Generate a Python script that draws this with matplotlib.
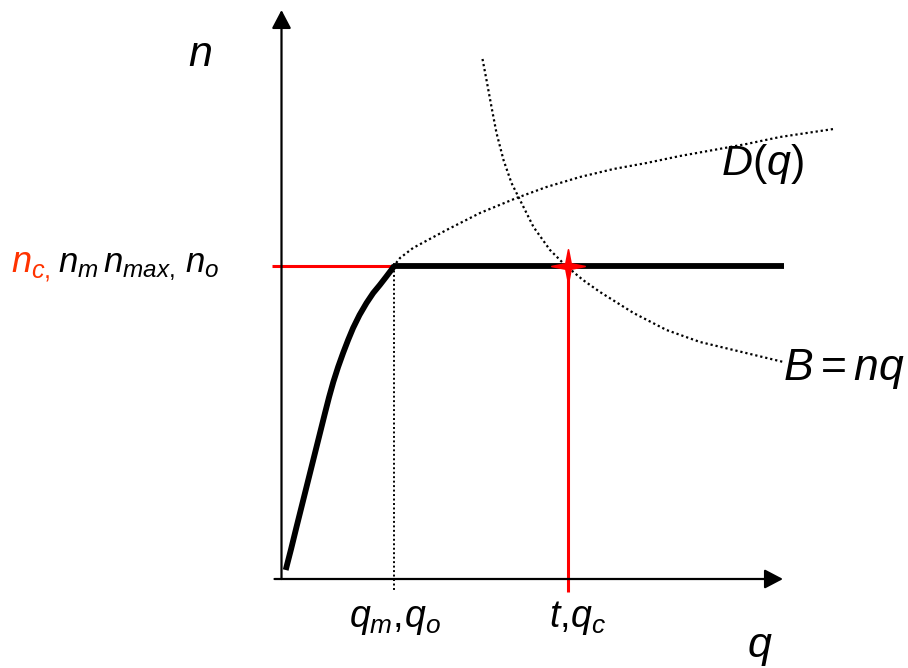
import matplotlib.pyplot as plt
from matplotlib.path import Path

plt.rcParams['mathtext.fontset'] = 'custom'
plt.rcParams['mathtext.rm'] = 'Liberation Sans'
plt.rcParams['mathtext.it'] = 'Liberation Sans:italic'
plt.rcParams['font.family'] = ['Liberation Sans', 'DejaVu Sans']

# ---- data (schematic units, origin at the axes crossing) ----
q_m = 112.5          # q_m, q_o
q_c = 286.0          # t, q_c
n_c = 313.5          # n_c, n_m, n_max, n_o
q_end = 502.0        # end of the plateau

# rising part of the thick curve
rise_q = [4.2, 9.6, 15.0, 20.0, 25.0, 30.0, 35.0, 39.5, 43.5, 47.6, 51.8, 56.6, 61.6,
          66.6, 71.6, 78.0, 85.0, 91.7, 98.3, 104.5, 109.8, 113.0]
rise_n = [9, 30, 52, 72, 92, 112, 132, 150, 166, 182, 197, 212, 226,
          239, 251, 264, 276, 286, 294, 302, 309, 313.5]

# D(q) dotted curve
d_q = [111.5, 118.5, 131.5, 165, 198.5, 235, 265, 298.5, 332, 365, 398.5, 432, 465, 498.5, 552]
d_n = [312, 321, 331, 349, 366, 381, 392, 402, 410, 416, 423, 429, 435, 442, 450]

# B = nq dotted curve
b_q = [201, 205, 210, 215, 222, 230, 238.5, 252, 268.5, 283.5, 301.5, 318.5, 352, 385, 418.5, 452, 502]
b_n = [520, 499, 472, 446, 419, 396, 379, 352, 329, 314, 299, 287, 266, 249, 237, 229, 217]

fig = plt.figure(figsize=(9.08, 6.68), dpi=100)
ax = fig.add_axes([0, 0, 1, 1])
ax.set_xlim(-281.5, 626.5)
ax.set_ylim(-89, 579)
ax.axis('off')

dots = (0, (1, 1.3))
ax.plot(d_q, d_n, color='black', lw=1.6, ls=dots)
ax.plot(b_q, b_n, color='black', lw=1.6, ls=dots)
ax.plot([q_m, q_m], [n_c, -11], color='black', lw=1.4, ls=dots)

# red guide lines
ax.plot([-9.5, q_m], [n_c, n_c], color='#ff0000', lw=2.2, solid_capstyle='butt')
ax.plot([q_c, q_c], [n_c, -13], color='#ff0000', lw=2.2, solid_capstyle='butt')

# thick curve
ax.plot(rise_q, rise_n, color='black', lw=4.2, solid_capstyle='butt', solid_joinstyle='round')
ax.plot([q_m - 1, q_end], [n_c, n_c], color='black', lw=4.2, solid_capstyle='butt')

# axes arrows
arrow = dict(arrowstyle='-|>,head_length=0.8,head_width=0.42', lw=1.6, color='black',
             mutation_scale=14, shrinkA=0, shrinkB=0)
ax.annotate('', xy=(0, 569), xytext=(0, 0), arrowprops=arrow)
ax.annotate('', xy=(501.5, 0), xytext=(-7, 0), arrowprops=arrow)

# four-pointed star at the crossing
r = 0.16
star = Path([(0, 1), (r, r), (1, 0), (r, -r), (0, -1), (-r, -r), (-1, 0), (-r, r), (0, 1)],
            [Path.MOVETO] + [Path.LINETO] * 7 + [Path.CLOSEPOLY])
ax.plot([q_c], [n_c], marker=star, markersize=24, color='#ff0000', mec='#ff0000', mew=1.2)

# labels
ax.text(-81.5, 524, '$n$', fontsize=31, ha='center', va='center')
ax.text(480.5, 404, '$D(q)$', fontsize=31, ha='center', va='baseline')
ax.text(501.5, 199, '$B{=}nq$', fontsize=32, ha='left', va='baseline')
ax.text(478.5, -78, '$q$', fontsize=31, ha='center', va='baseline')
ax.text(113.5, -48, '$q_m,\\!q_o$', fontsize=27, ha='center', va='baseline')
ax.text(296, -48, '$t,\\!q_c$', fontsize=27, ha='center', va='baseline')
ax.text(-231.5, 307, '$n_{c,}$', fontsize=26, ha='right', va='baseline', color='#ff3300')
ax.text(-223.5, 307, '$n_m\\,n_{max,}\\,n_o$', fontsize=25, ha='left', va='baseline', color='black')

fig.savefig('out.png', dpi=100)
